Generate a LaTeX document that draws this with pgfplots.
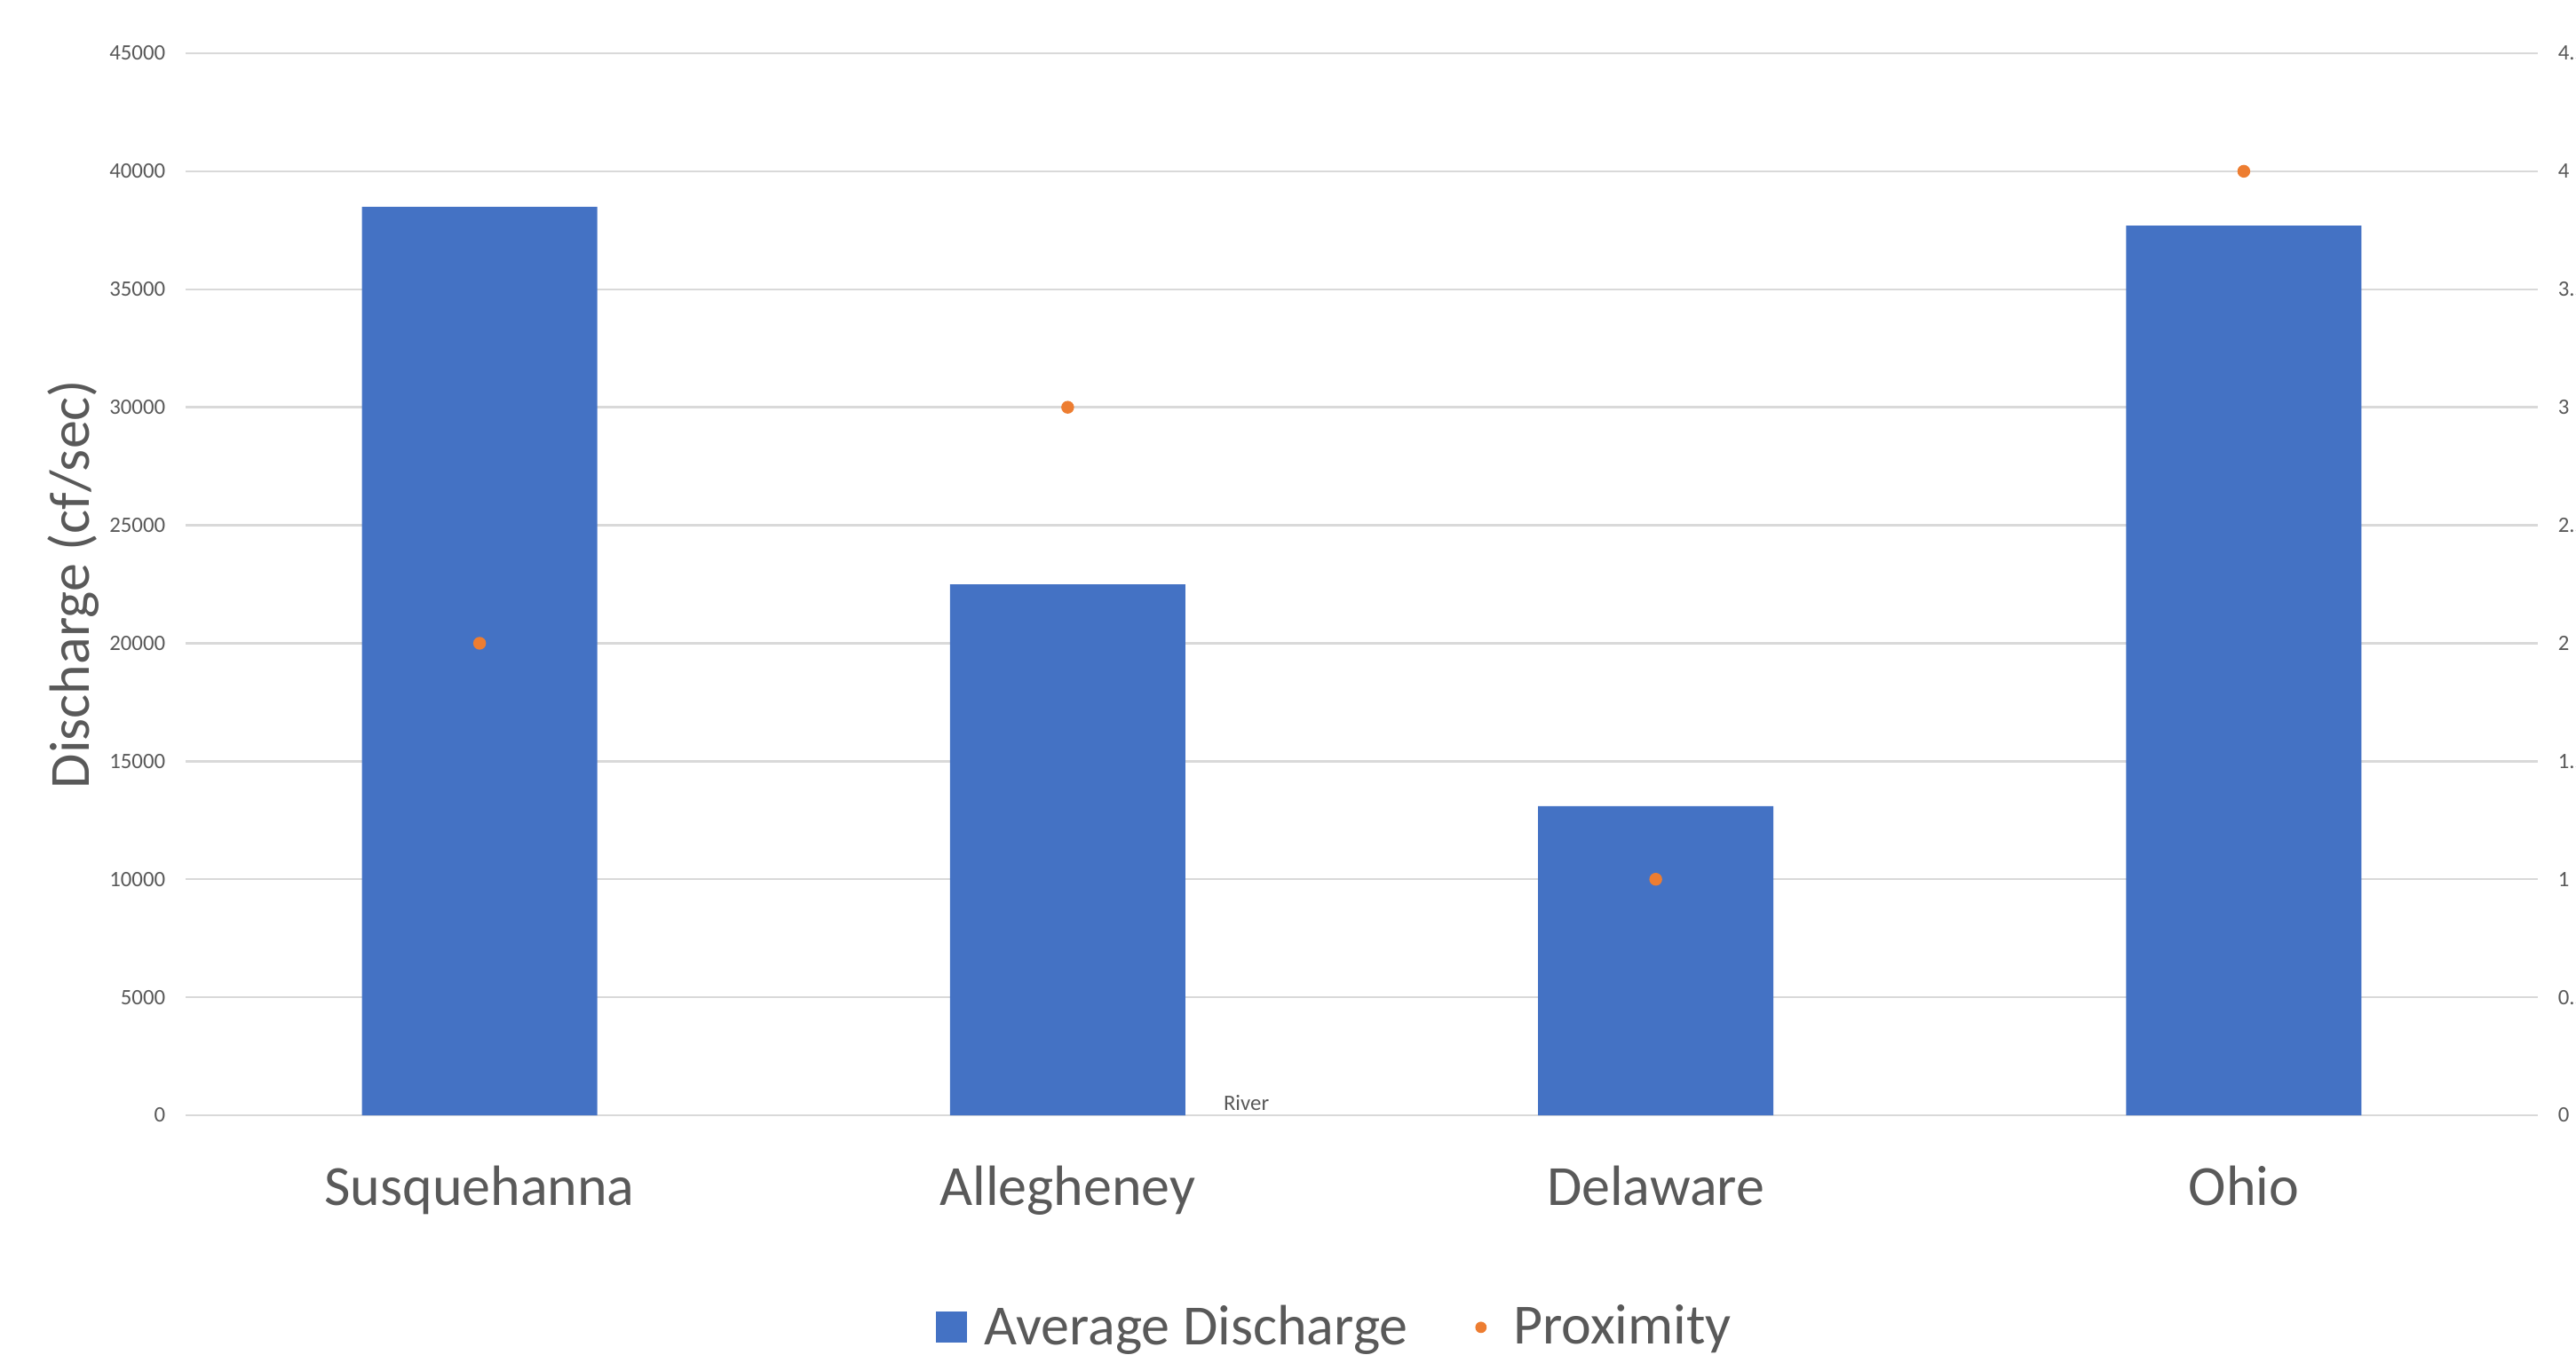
\documentclass[border=0pt]{standalone}
\usepackage{pgfplots}
\pgfplotsset{compat=1.18}
\usepackage{fontspec}
\setmainfont{Carlito}
\definecolor{barblue}{HTML}{4472C4}
\definecolor{dotorange}{HTML}{ED7D31}
\definecolor{textgray}{HTML}{595959}
\definecolor{gridgray}{HTML}{D9D9D9}
\begin{document}
\begin{tikzpicture}
\path[use as bounding box] (0,0) rectangle (725.25pt,383.5pt);
\begin{axis}[
  at={(52.25pt,69.5pt)}, anchor=south west,
  scale only axis, width=662.25pt, height=299pt,
  xmin=-0.5, xmax=3.5, ymin=0, ymax=45000,
  ytick={0,5000,...,45000},
  xtick={0,1,2,3},
  xticklabels={Susquehanna,Allegheney,Delaware,Ohio},
  scaled y ticks=false,
  /pgf/number format/1000 sep={},
  /pgf/number format/assume math mode=true,
  axis line style={draw=none},
  axis x line*=bottom, axis y line*=left,
  major tick length=0pt,
  ymajorgrids, grid style={gridgray, line width=0.6pt},
  tick label style={text=textgray},
  yticklabel style={font=\fontsize{6.2}{7}\selectfont, anchor=east, inner sep=0pt, xshift=-5.5pt},
  xticklabel style={font=\fontsize{16}{19}\selectfont, anchor=base, inner sep=0pt, yshift=-25.25pt},
  every axis y label/.style={at={(rel axis cs:-0.04757,0.5)}, rotate=90, anchor=center},
  ylabel={Discharge (cf/sec)},
  ylabel style={font=\fontsize{16}{19}\selectfont, text=textgray},
  clip=false,
  legend columns=2,
  legend style={at={(0.4896,-0.1997)}, anchor=center, draw=none, fill=none,
    font=\fontsize{16}{19}\selectfont, text=textgray,
    /tikz/every even column/.append style={column sep=17pt}},
]
\draw[gridgray, line width=0.6pt] (rel axis cs:0,0) -- (rel axis cs:1,0);
\addplot[ybar, bar width=66.25pt, fill=barblue, draw=none, bar shift=0pt,
  legend image code/.code={\fill[barblue, draw=none] (0pt,-4.4pt) rectangle (8.8pt,4.4pt); \path[draw=none, fill=none] (0pt,0pt) rectangle (11.6pt,0.1pt);}]
  coordinates {(0,38500) (1,22500) (2,13100) (3,37700)};
\addlegendentry{Average Discharge}
\addlegendimage{legend image code/.code={\fill[dotorange, draw=none] (2pt,0pt) circle (1.6pt); \path[draw=none, fill=none] (0.4pt,0pt) rectangle (9.1pt,0.1pt);}}
\addlegendentry{Proximity}
\node[anchor=base west, inner sep=0pt, text=textgray, font=\fontsize{6.2}{7}\selectfont] at (axis cs:1.264,0) [yshift=1.5pt] {River};
\end{axis}
\begin{axis}[
  at={(52.25pt,69.5pt)}, anchor=south west,
  scale only axis, width=662.25pt, height=299pt,
  xmin=-0.5, xmax=3.5, ymin=0, ymax=4.5,
  ytick={0,0.5,...,4.5},
  hide x axis,
  axis y line*=right,
  axis line style={draw=none},
  major tick length=0pt,
  /pgf/number format/assume math mode=true,
  yticklabel style={font=\fontsize{6.2}{7}\selectfont, text=textgray, anchor=west, inner sep=0pt, xshift=5.5pt},
  clip=false,
]
\addplot[only marks, mark=*, mark size=1.6pt, mark options={fill=dotorange, draw=none}, color=dotorange]
  coordinates {(0,2) (1,3) (2,1) (3,4)};
\end{axis}
\end{tikzpicture}
\end{document}
